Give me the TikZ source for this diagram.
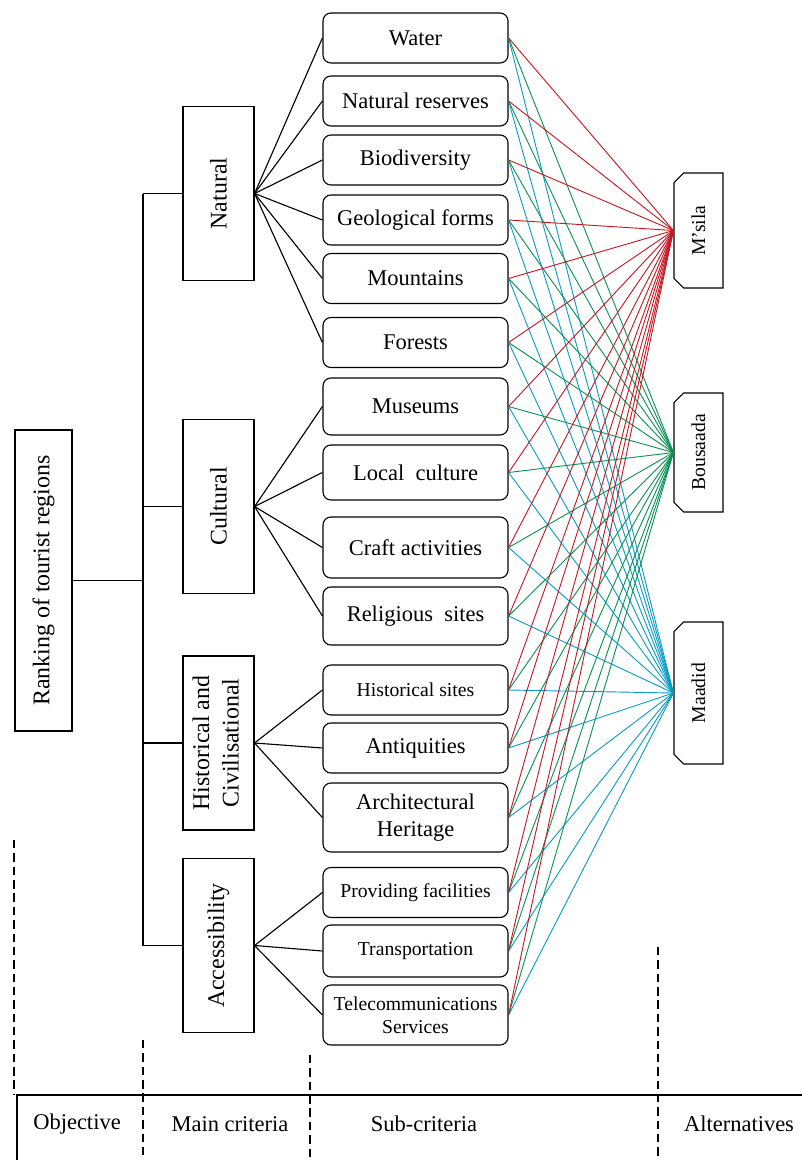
\documentclass[tikz,border=0pt]{standalone}
\usepackage{fontspec}
\setmainfont{Liberation Serif}
\usetikzlibrary{shapes.misc}

\definecolor{msilared}{RGB}{195,25,35}
\definecolor{bougreen}{RGB}{10,145,85}
\definecolor{maablue}{RGB}{10,155,195}

\begin{document}
\begin{tikzpicture}[x=0.025cm, y=-0.025cm, thick,
  sub/.style={draw, rounded corners=0.2cm, minimum width=4.625cm, minimum height=1.25cm,
    inner sep=1pt, align=center, font=\fontsize{16}{19}\selectfont},
  small/.style={font=\fontsize{14}{16.5}\selectfont},
  crit/.style={draw, minimum width=1.775cm, minimum height=4.35cm, inner sep=1pt,
    font=\fontsize{17}{19}\selectfont},
  alt/.style={draw, chamfered rectangle, chamfered rectangle corners={north west, south west},
    chamfered rectangle xsep=0.12cm, chamfered rectangle ysep=0.12cm, minimum width=1.225cm,
    inner sep=1pt, font=\fontsize{14}{16}\selectfont},
  sep/.style={line width=1pt, dash pattern=on 6pt off 3.5pt},
  lbl/.style={font=\fontsize{16}{19}\selectfont},
  link/.style={line width=0.65pt}]
  \useasboundingbox (0,0) rectangle (802,1160);

  % objective
  \node[crit, minimum width=1.425cm, minimum height=7.525cm] (goal) at (43.5,580.5)
    {\rotatebox{90}{Ranking of tourist regions}};

  % main criteria
  \node[crit] (nat) at (218.5,193.5) {\rotatebox{90}{Natural}};
  \node[crit] (cul) at (218.5,506.5) {\rotatebox{90}{Cultural}};
  \node[crit] (his) at (218.5,743) {\rotatebox{90}{\begin{tabular}{@{}c@{}}Historical and\\[2pt] Civilisational\end{tabular}}};
  \node[crit] (acc) at (218.5,945.5) {\rotatebox{90}{Accessibility}};

  % sub-criteria
  \node[sub] (water) at (415.5,38) {Water};
  \node[sub] (reserve) at (415.5,101) {Natural reserves};
  \node[sub] (bio) at (415.5,160) {Biodiversity};
  \node[sub] (geo) at (415.5,220) {Geological forms};
  \node[sub] (mount) at (415.5,278.5) {Mountains};
  \node[sub] (forest) at (415.5,342.5) {Forests};
  \node[sub, minimum height=1.425cm] (museum) at (415.5,406.5) {Museums};
  \node[sub, minimum height=1.375cm] (local) at (415.5,472.5) {Local\ \ culture};
  \node[sub, minimum height=1.525cm] (craft) at (415.5,547.5) {Craft activities};
  \node[sub, minimum height=1.45cm] (relig) at (415.5,616) {Religious\ \ sites};
  \node[sub, small] (hsite) at (415.5,690) {Historical sites};
  \node[sub] (antiq) at (415.5,748) {Antiquities};
  \node[sub, minimum height=1.725cm] (archi) at (415.5,817.5) {Architectural\\Heritage};
  \node[sub, small] (facil) at (415.5,892.5) {Providing facilities};
  \node[sub, small, minimum height=1.3cm] (trans) at (415.5,951) {Transportation};
  \node[sub, small, minimum height=1.5cm] (telec) at (415.5,1015) {Telecommunications\\Services};

  % alternatives
  \node[alt, minimum height=2.875cm] (msila) at (698.5,230.5) {\rotatebox{90}{M'sila}};
  \node[alt, minimum height=2.975cm] (bou) at (698.5,452.5) {\rotatebox{90}{Bousaada}};
  \node[alt, minimum height=3.55cm] (maa) at (698.5,693) {\rotatebox{90}{Maadid}};

  % tree
  \coordinate (trunk) at (143,0);
  \draw (goal.east) -- (goal.east -| trunk);
  \draw (nat.west -| trunk) -- (acc.west -| trunk);
  \foreach \m in {nat,cul,his,acc}
    \draw (\m.west -| trunk) -- (\m.west);

  \foreach \s in {water,reserve,bio,geo,mount,forest}
    \draw (nat.east) -- (\s.west);
  \foreach \s in {museum,local,craft,relig}
    \draw (cul.east) -- (\s.west);
  \foreach \s in {hsite,antiq,archi}
    \draw (his.east) -- (\s.west);
  \foreach \s in {facil,trans,telec}
    \draw (acc.east) -- (\s.west);

  % sub-criteria to alternatives
  \foreach \s in {water,reserve,bio,geo,mount,forest,museum,local,craft,relig,hsite,antiq,archi,facil,trans,telec} {
    \draw[link, maablue] (\s.east) -- (maa.west);
    \draw[link, bougreen] (\s.east) -- (bou.west);
    \draw[link, msilared] (\s.east) -- (msila.west);
  }

  % levels
  \coordinate (corner) at (17,1095);
  \draw (17,1160) -- (corner) -- (802,1095);
  \draw[sep] (14,840) -- (14,1095);
  \draw[sep] (143,1040) -- (143,1160);
  \draw[sep] (310,1055) -- (310,1160);
  \draw[sep] (658,947) -- (658,1160);

  \node[lbl] (lobj) at (77,1124) {Objective};
  \node[lbl] (lmain) at (230,1124) {Main criteria};
  \node[lbl] (lsub) at (424,1124) {Sub-criteria};
  \node[lbl] (lalt) at (739,1124) {Alternatives};
\end{tikzpicture}
\end{document}
